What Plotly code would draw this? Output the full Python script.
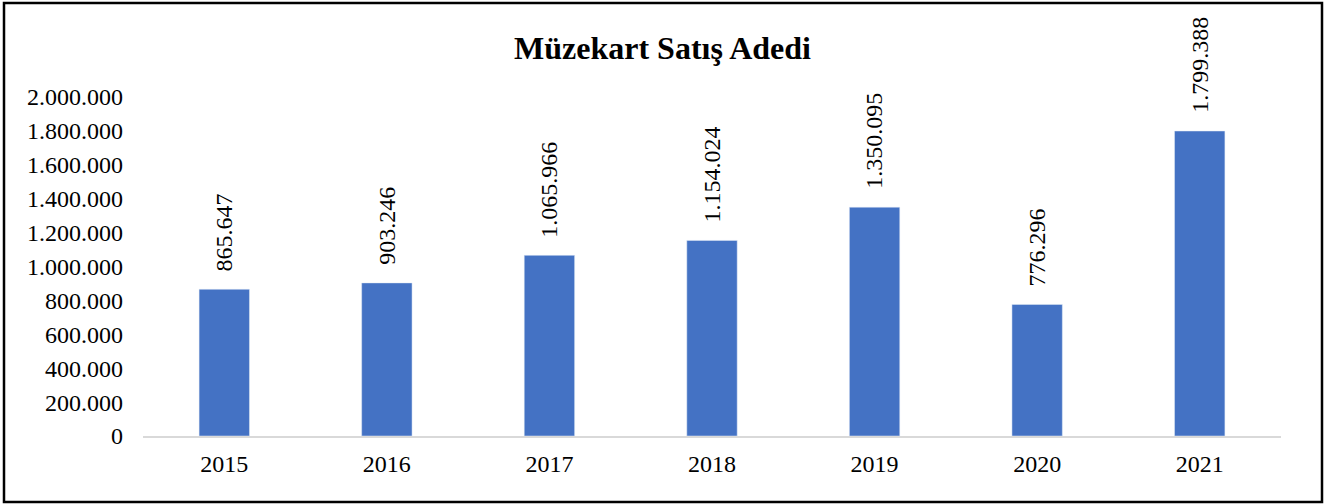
import plotly.graph_objects as go

years = ["2015", "2016", "2017", "2018", "2019", "2020", "2021"]
sales = [865647, 903246, 1065966, 1154024, 1350095, 776296, 1799388]
title = "Müzekart Satış Adedi"

W, H = 1325, 504
L, R, T, B = 143, 44, 97, 68
pw, ph = W - L - R, H - T - B
FONT = "Liberation Serif, Times New Roman, serif"

def px_x(x):
    return (x - L) / pw

def px_y(y):
    return (H - B - y) / ph

def fmt(v):
    return f"{v:,d}".replace(",", ".")

fig = go.Figure(go.Bar(
    x=years, y=sales,
    marker_color="#4472C4",
    hovertemplate="%{x}: %{y:,d}<extra></extra>",
))

# category axis: annotation x given as the category index
annotations = [
    dict(x=i, y=v, xref="x", yref="y", text=fmt(v), textangle=-90,
         showarrow=False, xanchor="center", yanchor="bottom", yshift=16,
         font=dict(family=FONT, size=24, color="#000000"))
    for i, v in enumerate(sales)
]

fig.update_layout(
    width=W, height=H,
    margin=dict(l=L, r=R, t=T, b=B),
    paper_bgcolor="white", plot_bgcolor="white",
    separators=",.",
    bargap=0.69,
    showlegend=False,
    font=dict(family=FONT, size=24, color="#000000"),
    title=dict(text="<b>" + title + "</b>", x=0.5, xref="container",
               y=1 - 48 / H, yref="container", yanchor="middle",
               xanchor="center",
               font=dict(family=FONT, size=32, color="#000000")),
    xaxis=dict(type="category", categoryorder="array", categoryarray=years,
               range=[-0.5, len(years) - 0.5],
               showline=True, linecolor="#d9d9d9", linewidth=1.5,
               showgrid=False, ticks="", ticklabelstandoff=5,
               tickfont=dict(family=FONT, size=24)),
    yaxis=dict(range=[0, 2000000], dtick=200000, tickformat=",d",
               showgrid=False, showline=False, zeroline=False, ticks="",
               ticklabelstandoff=19, tickfont=dict(family=FONT, size=24)),
    annotations=annotations,
    shapes=[dict(type="rect", xref="paper", yref="paper",
                 x0=px_x(4), x1=px_x(1322), y0=px_y(502), y1=px_y(3),
                 line=dict(color="black", width=2.5), fillcolor="rgba(0,0,0,0)",
                 layer="above")],
)

fig.write_html("out.html", config={"displayModeBar": False},
               post_script="document.body.style.margin='0';")
